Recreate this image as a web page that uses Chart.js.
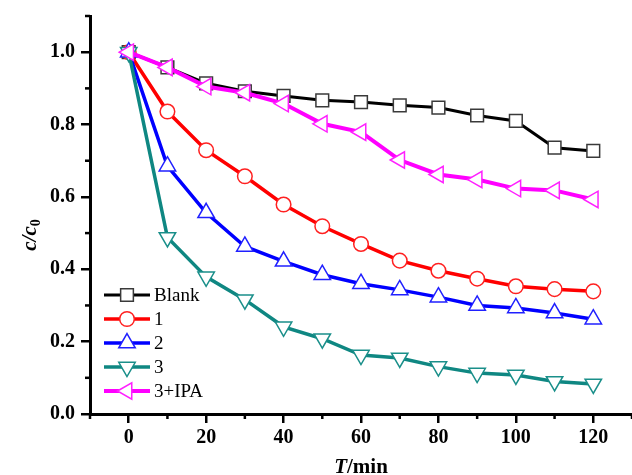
<!DOCTYPE html>
<html>
<head>
<meta charset="utf-8">
<script src="https://cdn.jsdelivr.net/npm/chart.js@4.4.0/dist/chart.umd.min.js"></script>
<style>
html,body{margin:0;padding:0;background:#fff;}
#wrap{width:632px;height:475px;position:relative;}
</style>
</head>
<body>
<div id="wrap"><canvas id="c" width="632" height="475"></canvas></div>
<script>
const times = [0, 10, 20, 30, 40, 50, 60, 70, 80, 90, 100, 110, 120];
const seriesNames = ['Blank', '1', '2', '3', '3+IPA'];
const blank = [1.0, 0.958, 0.914, 0.892, 0.879, 0.867, 0.862, 0.853, 0.847, 0.825, 0.810, 0.736, 0.727];
const s1 = [1.0, 0.836, 0.729, 0.657, 0.579, 0.519, 0.470, 0.424, 0.396, 0.374, 0.353, 0.345, 0.339];
const s2 = [1.0, 0.685, 0.556, 0.463, 0.422, 0.385, 0.360, 0.343, 0.323, 0.300, 0.293, 0.279, 0.262];
const s3 = [1.0, 0.488, 0.379, 0.316, 0.241, 0.208, 0.163, 0.155, 0.131, 0.113, 0.108, 0.090, 0.083];
const sIPA = [1.0, 0.958, 0.905, 0.888, 0.858, 0.802, 0.779, 0.702, 0.662, 0.648, 0.623, 0.618, 0.593];
const xTickLabels = [0, 20, 40, 60, 80, 100, 120];
const yTickLabels = ['0.0', '0.2', '0.4', '0.6', '0.8', '1.0'];

const FONT = '"Liberation Serif", "Times New Roman", serif';

function pts(vals) { return times.map((t, i) => ({x: t, y: vals[i]})); }

const styles = [
  {color: '#000000', border: '#3a3a3a', pointStyle: 'rect', radius: 9, rot: 0, order: 4, lw: 3},
  {color: '#ff0000', border: '#ff2020', pointStyle: 'circle', radius: 7.3, rot: 0, order: 3, lw: 3.5},
  {color: '#0000ff', border: '#2020ff', pointStyle: 'triangle', radius: 9.5, rot: 0, order: 2, lw: 3.5},
  {color: '#0f8782', border: '#1a8f8a', pointStyle: 'triangle', radius: 9.5, rot: 180, order: 1, lw: 3.5},
  {color: '#ff00ff', border: '#ff20ff', pointStyle: 'triangle', radius: 9.5, rot: 270, order: 0, lw: 4}
];
const allVals = [blank, s1, s2, s3, sIPA];

const datasets = seriesNames.map((name, i) => ({
  label: name,
  data: pts(allVals[i]),
  borderColor: styles[i].color,
  backgroundColor: '#ffffff',
  borderWidth: styles[i].lw,
  pointStyle: styles[i].pointStyle,
  pointRadius: styles[i].radius,
  pointRotation: styles[i].rot,
  pointBorderColor: styles[i].border,
  pointBackgroundColor: '#ffffff',
  pointBorderWidth: 1.5,
  tension: 0,
  order: styles[i].order,
  clip: false
}));

const isMajorX = v => xTickLabels.indexOf(Math.round(v)) >= 0;
const isMajorY = v => { const k = Math.round(v * 10); return k % 2 === 0 && k <= 10; };

const extras = {
  id: 'extras',
  afterDraw(chart) {
    const ctx = chart.ctx;
    const xs = chart.scales.x, ys = chart.scales.y;
    const area = chart.chartArea;
    ctx.save();
    // minor ticks
    ctx.strokeStyle = '#000';
    ctx.lineWidth = 2.5;
    xs.ticks.forEach(t => {
      if (!isMajorX(t.value)) {
        const px = xs.getPixelForValue(t.value);
        ctx.beginPath(); ctx.moveTo(px, area.bottom); ctx.lineTo(px, area.bottom + 5); ctx.stroke();
      }
    });
    ys.ticks.forEach(t => {
      if (!isMajorY(t.value)) {
        const py = ys.getPixelForValue(t.value);
        ctx.beginPath(); ctx.moveTo(area.left, py); ctx.lineTo(area.left - 5, py); ctx.stroke();
      }
    });
    // legend
    const lx0 = 104, lx1 = 150, ly0 = 295, dy = 24;
    ctx.font = '19px ' + FONT;
    ctx.textBaseline = 'middle';
    ctx.textAlign = 'left';
    chart.data.datasets.forEach((ds, i) => {
      const y = ly0 + i * dy;
      ctx.strokeStyle = ds.borderColor;
      ctx.lineWidth = ds.borderWidth;
      ctx.beginPath(); ctx.moveTo(lx0, y); ctx.lineTo(lx1, y); ctx.stroke();
      ctx.fillStyle = '#fff';
      ctx.strokeStyle = ds.pointBorderColor;
      ctx.lineWidth = 1.5;
      Chart.helpers.drawPoint(ctx, {pointStyle: ds.pointStyle, rotation: ds.pointRotation, radius: ds.pointRadius, borderWidth: 1.5}, (lx0 + lx1) / 2, y);
      ctx.fillStyle = '#000';
      ctx.fillText(ds.label, 154, y + 1);
    });
    // x title: T/min
    ctx.textBaseline = 'alphabetic';
    const xfontI = 'italic bold 21px ' + FONT;
    const xfontB = 'bold 21px ' + FONT;
    ctx.font = xfontI; const wT = ctx.measureText('T').width;
    ctx.font = xfontB; const wM = ctx.measureText('/min').width;
    let sx = (area.left + area.right) / 2 - (wT + wM) / 2;
    const by = 473;
    ctx.font = xfontI; ctx.fillText('T', sx, by);
    ctx.font = xfontB; ctx.fillText('/min', sx + wT, by);
    // y title: c/c0
    ctx.translate(36, 235);
    ctx.rotate(-Math.PI / 2);
    const yf = 'italic bold 21px ' + FONT;
    const ys0 = 'bold 14px ' + FONT;
    ctx.font = yf; const w1 = ctx.measureText('c/c').width;
    ctx.font = ys0; const w2 = ctx.measureText('0').width;
    const st = -(w1 + w2) / 2;
    ctx.font = yf; ctx.fillText('c/c', st, 0);
    ctx.font = ys0; ctx.fillText('0', st + w1, 4);
    ctx.restore();
  }
};

new Chart(document.getElementById('c'), {
  type: 'line',
  data: {datasets},
  options: {
    responsive: false,
    animation: false,
    devicePixelRatio: 1,
    layout: {autoPadding: false, padding: {top: 16, right: 0, left: 0, bottom: 0}},
    plugins: {legend: {display: false}, tooltip: {enabled: false}, title: {display: false}},
    scales: {
      x: {
        type: 'linear', min: -10, max: 130,
        afterFit(s) { s.height = 61; s.paddingLeft = 0; s.paddingRight = 0; },
        ticks: {
          stepSize: 10, autoSkip: false, maxRotation: 0, padding: 3,
          color: '#000', font: {family: FONT, size: 20, weight: 'bold'},
          callback: v => isMajorX(v) ? String(Math.round(v)) : ''
        },
        grid: {drawOnChartArea: false, tickLength: 9, lineWidth: 2.5,
          tickColor: c => (c.tick && isMajorX(c.tick.value)) ? '#000' : 'rgba(0,0,0,0)'},
        border: {display: true, color: '#000', width: 3}
      },
      y: {
        type: 'linear', min: 0, max: 1.1,
        afterFit(s) { s.width = 90; s.paddingTop = 0; s.paddingBottom = 0; },
        ticks: {
          stepSize: 0.1, autoSkip: false, padding: 6,
          color: '#000', font: {family: FONT, size: 20, weight: 'bold'},
          callback: v => isMajorY(v) ? (Math.round(v * 10) / 10).toFixed(1) : ''
        },
        grid: {drawOnChartArea: false, tickLength: 9, lineWidth: 2.5,
          tickColor: c => (c.tick && isMajorY(c.tick.value)) ? '#000' : 'rgba(0,0,0,0)'},
        border: {display: true, color: '#000', width: 3}
      }
    }
  },
  plugins: [extras]
});
</script>
</body>
</html>
